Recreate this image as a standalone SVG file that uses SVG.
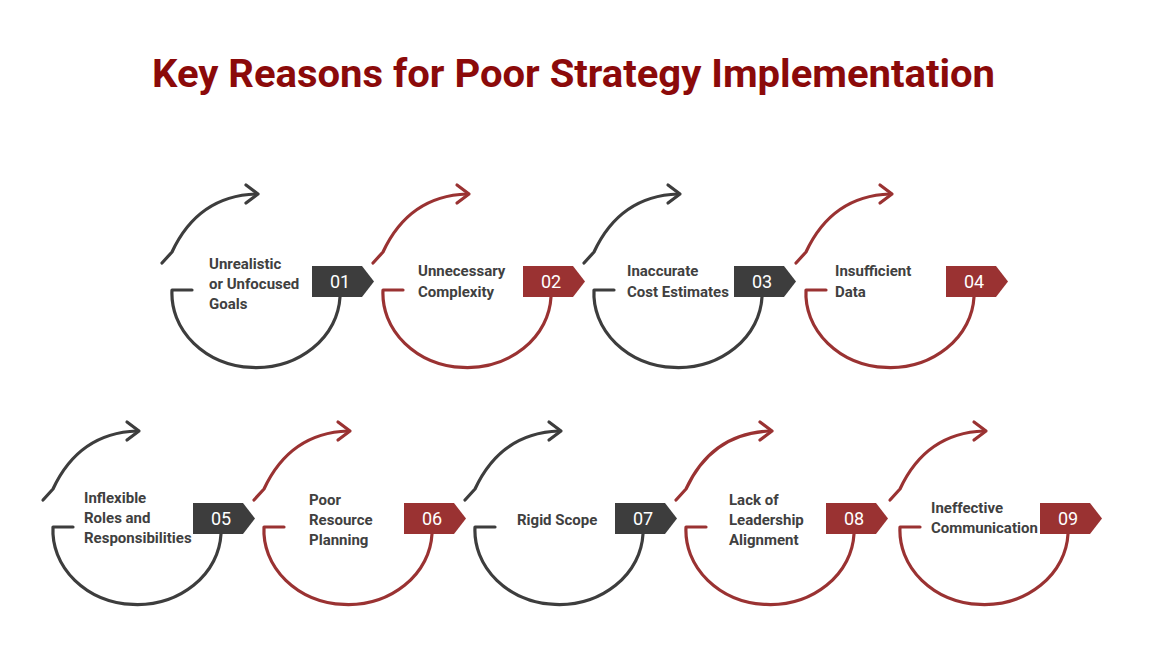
<svg xmlns="http://www.w3.org/2000/svg" xmlns:xlink="http://www.w3.org/1999/xlink" width="1170" height="647" viewBox="0 0 1170 647">
<style>
text{stroke:none}
.t{font-family:Roboto,"Liberation Sans",sans-serif;font-weight:700;font-size:15px;fill:#404040}
.n{font-family:Roboto,"Liberation Sans",sans-serif;font-size:18px;fill:#fff;text-anchor:middle}
.d{stroke:#3d3d3d;fill:#3d3d3d}
.r{stroke:#9a3232;fill:#9a3232}
.a{fill:none;stroke-width:3.2;stroke-linecap:round;stroke-linejoin:round}
</style>
<defs>
<g id="arcs">
<path class="a" d="M192,290 L172,290 A84,74 0 0 0 340,297"/>
<path class="a" d="M162,263 L172,252 Q198,196 256,194"/>
<path class="a" d="M246,185 L258,194 L246,203"/>
</g>
<path id="badge" d="M312,266 H362 L374,281.5 L362,297 H312 Z" stroke="none"/>
</defs>
<rect width="1170" height="647" fill="#fff"/>
<text x="152" y="87" textLength="843" lengthAdjust="spacingAndGlyphs" style="font-family:Roboto,'Liberation Sans',sans-serif;font-weight:700;font-size:38px;fill:#8b0a0a">Key Reasons for Poor Strategy Implementation</text>
<g id="connectors"></g>
<g id="n1" class="d"><use xlink:href="#arcs"/><use xlink:href="#badge"/><text class="n" x="340" y="288">01</text>
<text class="t" x="209" y="269">Unrealistic</text><text class="t" x="209" y="289">or Unfocused</text><text class="t" x="209" y="309">Goals</text></g>
<g id="n2" class="r"><g transform="translate(211,0)"><use xlink:href="#arcs"/><use xlink:href="#badge"/><text class="n" x="340" y="288">02</text></g>
<text class="t" x="418" y="276">Unnecessary</text><text class="t" x="418" y="297">Complexity</text></g>
<g id="n3" class="d"><g transform="translate(422,0)"><use xlink:href="#arcs"/><use xlink:href="#badge"/><text class="n" x="340" y="288">03</text></g>
<text class="t" x="627" y="276">Inaccurate</text><text class="t" x="627" y="297">Cost Estimates</text></g>
<g id="n4" class="r"><g transform="translate(634,0)"><use xlink:href="#arcs"/><use xlink:href="#badge"/><text class="n" x="340" y="288">04</text></g>
<text class="t" x="835" y="276">Insufficient</text><text class="t" x="835" y="297">Data</text></g>
<g id="n5" class="d"><g transform="translate(-119,237)"><use xlink:href="#arcs"/><use xlink:href="#badge"/><text class="n" x="340" y="288">05</text></g>
<text class="t" x="84" y="503">Inflexible</text><text class="t" x="84" y="523">Roles and</text><text class="t" x="84" y="543">Responsibilities</text></g>
<g id="n6" class="r"><g transform="translate(92,237)"><use xlink:href="#arcs"/><use xlink:href="#badge"/><text class="n" x="340" y="288">06</text></g>
<text class="t" x="309" y="505">Poor</text><text class="t" x="309" y="525">Resource</text><text class="t" x="309" y="545">Planning</text></g>
<g id="n7" class="d"><g transform="translate(303,237)"><use xlink:href="#arcs"/><use xlink:href="#badge"/><text class="n" x="340" y="288">07</text></g>
<text class="t" x="517" y="525">Rigid Scope</text></g>
<g id="n8" class="r"><g transform="translate(514,237)"><use xlink:href="#arcs"/><use xlink:href="#badge"/><text class="n" x="340" y="288">08</text></g>
<text class="t" x="729" y="505">Lack of</text><text class="t" x="729" y="525">Leadership</text><text class="t" x="729" y="545">Alignment</text></g>
<g id="n9" class="r"><g transform="translate(728,237)"><use xlink:href="#arcs"/><use xlink:href="#badge"/><text class="n" x="340" y="288">09</text></g>
<text class="t" x="931" y="513">Ineffective</text><text class="t" x="931" y="533">Communication</text></g>
</svg>
